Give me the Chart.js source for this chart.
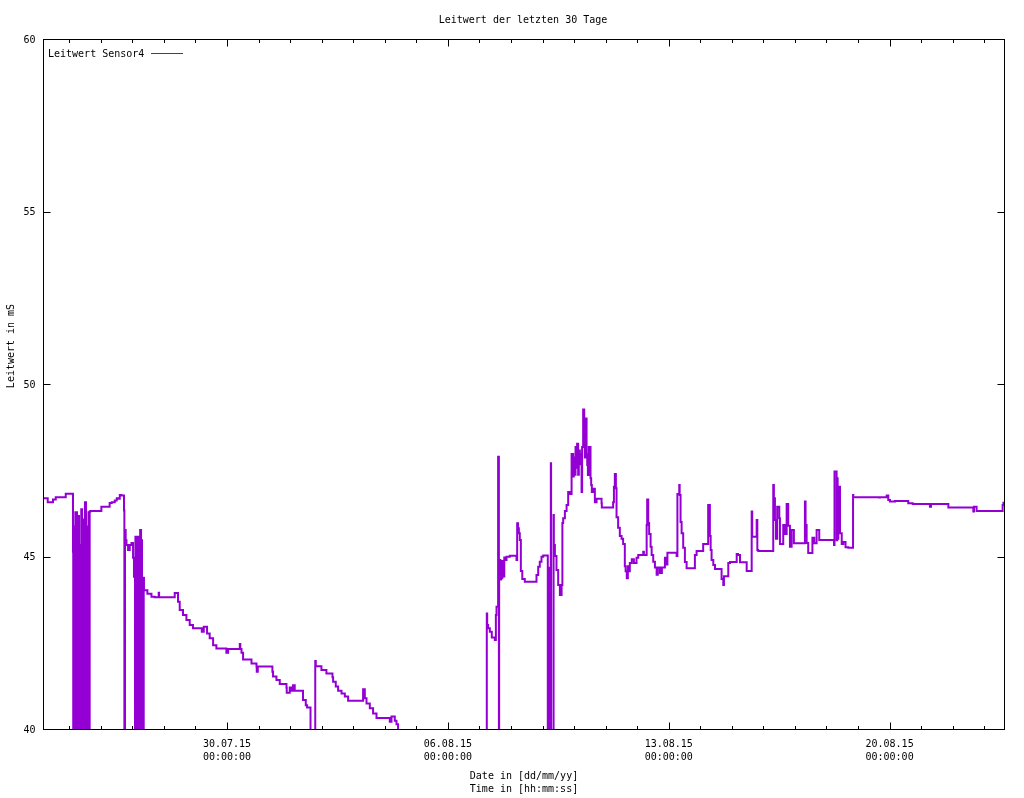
<!DOCTYPE html>
<html>
<head>
<meta charset="utf-8">
<script src="https://cdn.jsdelivr.net/npm/chart.js@4"></script>
<style>
    body { margin: 0; background: #fff; }
    canvas { display: block; }
</style>
</head>
<body>
<canvas id="chart" width="1024" height="798"></canvas>
<script>
// Stunden seit 24.07.15 00:00
const stunden = [
    4.0, 7.6, 11.6, 13.7, 16.7, 21.3, 22.1, 26.8, 27.0, 27.5,
    28.1, 28.6, 29.9, 30.5, 31.4, 32.1, 32.7, 33.1, 33.7, 34.0,
    34.4, 34.8, 35.2, 35.9, 36.7, 37.1, 37.5, 37.8, 38.2, 38.6,
    39.0, 39.5, 40.1, 41.0, 48.4, 48.7, 54.7, 56.3, 58.6, 60.1,
    61.2, 62.4, 63.6, 65.6, 65.9, 66.4, 66.9, 67.5, 68.7, 70.0,
    71.3, 72.5, 73.2, 74.0, 74.3, 75.5, 76.0, 76.8, 77.2, 77.6,
    77.9, 78.6, 79.1, 79.3, 79.8, 80.1, 80.6, 80.8, 81.4, 83.4,
    83.7, 86.5, 89.0, 92.0, 92.3, 94.3, 104.2, 104.6, 106.7, 108.0,
    110.5, 113.1, 115.6, 118.1, 120.9, 124.8, 126.3, 128.8, 130.8, 133.4,
    135.9, 138.4, 143.5, 144.8, 146.1, 153.7, 154.1, 155.0, 156.2, 158.8,
    162.6, 162.8, 166.4, 166.6, 167.4, 167.8, 178.5, 179.0, 181.6, 184.1,
    185.4, 189.2, 189.4, 191.7, 192.1, 193.0, 194.2, 195.5, 196.3, 201.8,
    203.9, 204.9, 207.5, 207.7, 211.1, 211.5, 212.0, 215.8, 216.1, 219.6,
    220.1, 224.2, 224.7, 226.7, 228.5, 231.1, 233.6, 236.1, 238.7, 247.5,
    248.8, 250.1, 252.6, 255.1, 257.7, 260.2, 267.8, 269.1, 271.6, 272.9,
    274.1, 275.8, 276.2, 341.6, 341.9, 342.6, 343.9, 345.4, 347.7, 348.5,
    349.0, 350.2, 350.8, 351.0, 351.2, 351.9, 352.4, 352.8, 353.4, 354.2,
    354.9, 355.7, 356.6, 359.1, 360.4, 364.2, 364.7, 365.4, 366.0, 366.7,
    367.5, 368.6, 370.5, 371.8, 379.4, 380.7, 381.9, 383.2, 384.5, 385.7,
    388.0, 388.4, 389.9, 390.3, 390.5, 390.8, 392.4, 392.6, 393.4, 394.6,
    395.9, 397.2, 398.5, 399.1, 399.7, 401.0, 402.3, 403.5, 404.8, 406.1,
    407.3, 407.8, 408.6, 409.1, 409.9, 410.3, 411.1, 411.6, 412.4, 412.9,
    413.7, 414.1, 414.9, 415.7, 416.2, 416.7, 417.5, 418.0, 418.5, 419.2,
    420.5, 421.0, 421.5, 422.7, 423.8, 425.1, 426.3, 428.9, 429.1, 430.1,
    437.7, 438.3, 439.0, 439.8, 440.3, 441.5, 442.8, 444.1, 445.3, 446.6,
    447.2, 448.1, 448.9, 449.7, 450.4, 451.9, 453.5, 455.5, 456.8, 458.1,
    460.6, 461.1, 463.2, 463.6, 464.4, 465.1, 466.2, 467.0, 468.2, 469.5,
    470.8, 471.7, 473.3, 474.8, 477.1, 477.6, 479.0, 479.6, 486.0, 486.6,
    488.0, 488.3, 489.0, 489.8, 491.0, 492.3, 493.6, 494.8, 499.9, 501.2,
    502.4, 506.2, 507.5, 510.0, 511.3, 511.9, 512.6, 513.9, 515.2, 516.4,
    520.2, 521.5, 522.0, 522.8, 525.3, 526.6, 531.7, 532.7, 534.2, 535.5,
    539.3, 540.3, 543.1, 543.5, 544.3, 546.9, 547.4, 548.1, 549.4, 559.5,
    560.0, 560.8, 561.6, 562.5, 564.1, 564.6, 567.1, 568.4, 569.7, 570.9,
    572.2, 573.5, 575.2, 576.0, 583.6, 584.1, 584.9, 586.1, 589.3, 590.7,
    592.5, 594.5, 595.0, 605.7, 606.1, 607.7, 608.2, 608.5, 609.0, 610.3,
    611.6, 612.8, 614.5, 616.6, 620.2, 620.4, 625.5, 640.2, 640.7, 645.8,
    647.0, 648.3, 652.1, 652.9, 662.2, 663.5, 665.6, 665.8, 678.7, 679.5,
    680.8, 692.7, 693.2, 711.7, 712.2, 714.2, 716.7, 734.0, 734.6, 735.8
];

// Leitwert in mS (0 = Sensorausfall)
const leitwert = [
    46.76, 46.72, 46.60, 46.68, 46.75, 46.75, 46.85, 46.85, 45.17, 0,
    45.9, 0, 46.31, 0, 46.2, 0, 45.36, 0, 46.4, 0,
    46.1, 0, 41.55, 0, 46.6, 0, 41.8, 0, 45.9, 0,
    46.31, 0, 46.33, 46.35, 46.35, 46.47, 46.47, 46.58, 46.6, 46.65,
    46.72, 46.7, 46.81, 46.8, 46.36, 0, 45.8, 45.5, 45.36, 45.22,
    45.36, 45.42, 44.99, 44.44, 0, 45.6, 0, 45.6, 0, 45.3,
    0, 45.8, 0, 45.5, 0, 43.1, 0, 44.41, 44.05, 44.05,
    43.95, 43.95, 43.86, 43.85, 43.98, 43.85, 43.85, 43.97, 43.97, 43.72,
    43.48, 43.33, 43.19, 43.04, 42.95, 42.95, 42.85, 42.99, 42.80, 42.66,
    42.46, 42.36, 42.36, 42.24, 42.35, 42.35, 42.49, 42.35, 42.24, 42.04,
    42.04, 41.93, 41.93, 41.84, 41.69, 41.84, 41.84, 41.69, 41.55, 41.45,
    41.33, 41.33, 41.23, 41.08, 41.23, 41.23, 41.14, 41.30, 41.14, 41.14,
    40.87, 40.72, 40.65, 0, 0, 42.0, 41.85, 41.85, 41.74, 41.74,
    41.64, 41.64, 41.53, 41.40, 41.26, 41.14, 41.06, 40.97, 40.85, 40.85,
    41.18, 40.92, 40.77, 40.63, 40.48, 40.35, 40.35, 40.24, 40.39, 40.27,
    40.17, 39.9, 0, 0, 43.38, 43.04, 42.95, 42.85, 42.68, 42.61,
    43.33, 43.57, 47.92, 0, 44.93, 44.93, 44.36, 44.8, 44.4, 44.9,
    44.45, 45.0, 44.93, 45.02, 45.05, 45.05, 44.93, 45.99, 45.85, 45.7,
    45.51, 44.61, 44.38, 44.30, 44.30, 44.49, 44.73, 44.88, 45.02, 45.06,
    45.06, 0, 44.7, 0, 47.73, 0, 0, 46.23, 45.36, 45.04,
    44.64, 44.2, 43.91, 44.2, 46.0, 46.14, 46.35, 46.52, 46.9, 46.84,
    48.0, 47.35, 47.9, 47.4, 48.2, 47.6, 48.3, 47.4, 48.1, 47.7,
    48.0, 46.9, 48.2, 49.29, 48.55, 47.9, 49.03, 48.0, 47.68, 47.39,
    48.2, 47.3, 47.1, 46.9, 46.99, 46.6, 46.70, 46.70, 46.57, 46.45,
    46.45, 46.6, 47.05, 47.42, 47.01, 46.17, 45.86, 45.62, 45.54, 45.39,
    44.75, 44.6, 44.4, 44.75, 44.6, 44.84, 44.95, 44.84, 44.99, 45.07,
    45.07, 45.17, 45.07, 45.94, 46.68, 46.0, 45.68, 45.31, 45.07, 44.88,
    44.71, 44.5, 44.71, 44.55, 44.71, 44.99, 44.8, 45.14, 45.14, 45.04,
    46.84, 47.10, 46.81, 46.03, 45.70, 45.28, 44.87, 44.69, 44.69, 45.07,
    45.19, 45.19, 45.39, 45.39, 46.52, 45.62, 45.22, 44.93, 44.78, 44.67,
    44.67, 44.38, 44.2, 44.46, 44.46, 44.84, 44.87, 45.1, 45.07, 44.86,
    44.86, 44.61, 44.61, 46.33, 45.60, 45.60, 46.09, 45.22, 45.19, 45.19,
    47.10, 46.72, 46.09, 45.54, 46.47, 46.14, 45.39, 45.94, 45.68, 46.55,
    45.92, 45.31, 45.80, 45.41, 45.41, 46.62, 45.94, 45.42, 45.13, 45.57,
    45.41, 45.80, 45.51, 45.51, 45.36, 47.49, 45.5, 47.3, 45.54, 47.05,
    45.70, 45.39, 45.45, 45.30, 45.28, 46.81, 46.75, 46.75, 46.74, 46.75,
    46.80, 46.67, 46.62, 46.64, 46.64, 46.57, 46.57, 46.55, 46.55, 46.47,
    46.55, 46.55, 46.45, 46.45, 46.33, 46.47, 46.35, 46.35, 46.52, 46.59
];

// Haupt-Ticks (Stunden) und Beschriftung
const hauptTicks = [144, 312, 480, 648];
const tickLabels = [
    ['30.07.15', '00:00:00'],
    ['06.08.15', '00:00:00'],
    ['13.08.15', '00:00:00'],
    ['20.08.15', '00:00:00']
];
const yTicks = [40, 45, 50, 55, 60];

const FONT = '"DejaVu Sans Mono", "Liberation Mono", monospace';
const LINE_COLOR = '#9400d3';

const gnuplotFrame = {
    id: 'gnuplotFrame',
    afterDraw(chart) {
        const ctx = chart.ctx;
        const ca = chart.chartArea;
        const xs = chart.scales.x;
        const ys = chart.scales.y;
        const left = Math.round(ca.left) + 0.5;
        const right = Math.round(ca.right) - 0.5;
        const top = Math.round(ca.top) - 0.5;
        const bottom = Math.round(ca.bottom) - 0.5;

        ctx.save();
        ctx.strokeStyle = '#000';
        ctx.lineWidth = 1;
        ctx.strokeRect(left, top, right - left, bottom - top);

        ctx.beginPath();
        // Minor-Ticks: jeden Tag
        for (let h = 24; h < xs.max; h += 24) {
            if (h < xs.min) continue;
            const px = Math.round(xs.getPixelForValue(h)) + 0.5;
            const len = hauptTicks.includes(h) ? 7 : 3.5;
            ctx.moveTo(px, bottom);
            ctx.lineTo(px, bottom - len);
            ctx.moveTo(px, top);
            ctx.lineTo(px, top + len);
        }
        yTicks.forEach(v => {
            const py = Math.round(ys.getPixelForValue(v)) - 0.5;
            ctx.moveTo(left, py);
            ctx.lineTo(left + 7, py);
            ctx.moveTo(right, py);
            ctx.lineTo(right - 7, py);
        });
        ctx.stroke();

        ctx.fillStyle = '#000';
        ctx.font = '10px ' + FONT;
        ctx.textAlign = 'center';
        ctx.textBaseline = 'middle';
        ctx.fillText('Leitwert der letzten 30 Tage', 523, 20);

        // Y-Achsentitel
        ctx.save();
        ctx.translate(11, 346);
        ctx.rotate(-Math.PI / 2);
        ctx.fillText('Leitwert in mS', 0, 0);
        ctx.restore();

        // Legende
        ctx.textAlign = 'left';
        ctx.fillText(chart.data.datasets[0].label, 48, 54);
        ctx.strokeStyle = LINE_COLOR;
        ctx.beginPath();
        ctx.moveTo(151, 53.5);
        ctx.lineTo(183, 53.5);
        ctx.stroke();
        ctx.restore();
    }
};

new Chart(document.getElementById('chart'), {
    type: 'line',
    data: {
        datasets: [{
            label: 'Leitwert Sensor4',
            data: stunden.map((h, i) => ({ x: h, y: leitwert[i] })),
            borderColor: LINE_COLOR,
            borderWidth: 2,
            pointRadius: 0,
            stepped: 'after',
            fill: false,
            clip: 0
        }]
    },
    options: {
        responsive: false,
        animation: false,
        layout: { padding: { top: 40, right: 19, left: 0, bottom: 0 } },
        plugins: {
            legend: { display: false },
            title: { display: false },
            tooltip: { enabled: false }
        },
        scales: {
            x: {
                type: 'linear',
                min: stunden[0],
                max: stunden[stunden.length - 1],
                afterBuildTicks: scale => {
                    scale.ticks = hauptTicks.map(v => ({ value: v }));
                },
                afterFit: scale => { scale.height = 68; },
                grid: { display: false, drawTicks: false },
                border: { display: false },
                ticks: {
                    autoSkip: false,
                    maxRotation: 0,
                    padding: 7.5,
                    color: '#000',
                    font: { family: FONT, size: 10, lineHeight: 1.3 },
                    callback: value => {
                        const i = hauptTicks.indexOf(value);
                        return i >= 0 ? tickLabels[i] : '';
                    }
                },
                title: {
                    display: true,
                    text: ['Date in [dd/mm/yy]', 'Time in [hh:mm:ss]'],
                    color: '#000',
                    font: { family: FONT, size: 10, lineHeight: 1.3 },
                    padding: { top: 0, bottom: 2.5 }
                }
            },
            y: {
                min: 40,
                max: 60,
                afterBuildTicks: scale => {
                    scale.ticks = yTicks.map(v => ({ value: v }));
                },
                afterFit: scale => { scale.width = 43; },
                grid: { display: false, drawTicks: false },
                border: { display: false },
                ticks: {
                    padding: 7.5,
                    color: '#000',
                    font: { family: FONT, size: 10 }
                }
            }
        }
    },
    plugins: [gnuplotFrame]
});
</script>
</body>
</html>
